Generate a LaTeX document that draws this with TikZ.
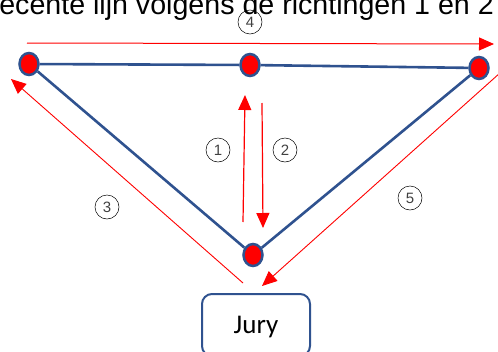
\documentclass[tikz,border=0pt]{standalone}
\usepackage{fontspec}
\setmainfont{Liberation Sans}
\newfontfamily\jurfont{Carlito}
\usetikzlibrary{shapes.geometric,arrows.meta}
\definecolor{edgeblue}{RGB}{47,82,143}
\tikzset{
  pt/.style={ellipse,draw=edgeblue,line width=2.5pt,fill=red,minimum width=19pt,minimum height=22pt,inner sep=0pt},
  edge/.style={draw=edgeblue,line width=2.6pt},
  redarrow/.style={draw=red,line width=1.2pt,-{Triangle[length=15pt,width=13pt]}},
  thinarrow/.style={draw=red,line width=0.9pt,-{Triangle[length=15pt,width=13pt]}},
  num/.style={circle,draw=black,line width=0.5pt,minimum size=24pt,inner sep=0pt,font=\fontsize{15pt}{15pt}\selectfont,text=black!75},
}
\begin{document}
\begin{tikzpicture}[x=1pt,y=-1pt]
\useasboundingbox (0,0) rectangle (498,351);
\clip (0,0) rectangle (498,351);
% title
\node[anchor=base east,inner sep=0pt,font=\fontsize{28.6pt}{28.6pt}\selectfont] (title) at (494,14) {ecente lijn volgens de richtingen 1 en 2};
% jury box
\node[draw=edgeblue,line width=2pt,rounded corners=10pt,minimum width=108pt,minimum height=62pt,anchor=north] (jury) at (256,293) {};
\node[anchor=base,inner sep=0pt,font=\jurfont\fontsize{27pt}{27pt}\selectfont] (jurytext) at (256,333) {Jury};
% points
\node[pt] (L) at (29,64) {};
\node[pt] (M) at (250,65) {};
\node[pt] (R) at (479,68) {};
\node[pt] (B) at (253,255) {};
% blue edges
\draw[edge] (L) -- (M);
\draw[edge] (M) -- (R);
\draw[edge] (L) -- (B);
\draw[edge] (B) -- (R);
% red arrows
\coordinate (a4s) at (27,43);
\coordinate (a4e) at (494,44);
\draw[redarrow,line width=1pt] (a4s) -- (a4e);
\coordinate (a1s) at (243,222);
\coordinate (a1e) at (245,95);
\draw[redarrow] (a1s) -- (a1e);
\coordinate (a2s) at (262,103);
\coordinate (a2e) at (263,228);
\draw[redarrow] (a2s) -- (a2e);
\coordinate (a3s) at (243,283);
\coordinate (a3e) at (11,79);
\draw[thinarrow] (a3s) -- (a3e);
\coordinate (a5s) at (510,64);
\coordinate (a5e) at (262,286);
\draw[thinarrow] (a5s) -- (a5e);
% labels
\node[num] (n4) at (250,22) {4};
\node[num] (n1) at (218,150) {1};
\node[num] (n2) at (285,150) {2};
\node[num] (n3) at (107,207) {3};
\node[num] (n5) at (410,198) {5};
\end{tikzpicture}
\end{document}
